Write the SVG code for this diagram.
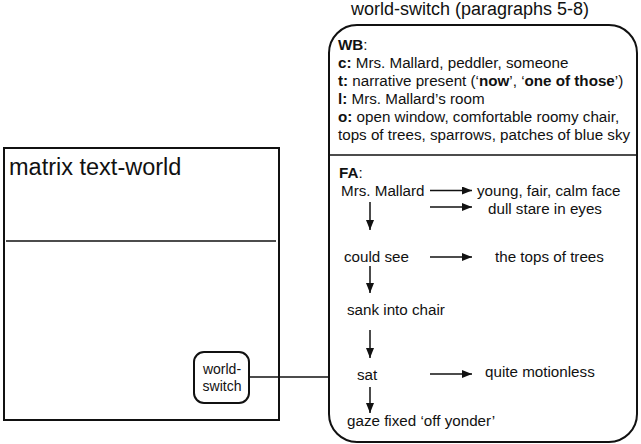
<svg xmlns="http://www.w3.org/2000/svg" width="641" height="444" viewBox="0 0 641 444">
<defs>
<style>
text{font-family:"Liberation Sans",Arial,Helvetica,sans-serif;fill:#111}
.t15{font-size:15.2px}
.b{font-weight:bold}
.box{fill:#fff;stroke:#111;stroke-width:2}
.div{stroke:#111;stroke-width:1.6}
.arr{stroke:#111;stroke-width:1.5;fill:none;marker-end:url(#ah)}
.con{stroke:#111;stroke-width:1.5;fill:none}
</style>
<marker id="ah" viewBox="0 0 10 8" refX="10" refY="4" markerWidth="10" markerHeight="8" markerUnits="userSpaceOnUse" orient="auto">
<path d="M0,0 L10,4 L0,8 Z" fill="#111"/>
</marker>
</defs>
<rect width="641" height="444" fill="#fff"/>

<g id="matrix">
<rect class="box" x="4" y="148" width="275" height="272"/>
<line class="div" x1="6" y1="241" x2="276" y2="241"/>
<text x="9" y="175" style="font-size:23.5px">matrix text-world</text>
</g>

<g id="ws-node">
<rect class="box" x="194" y="352" width="55" height="51" rx="10" ry="10"/>
<text x="222" y="374" text-anchor="middle" style="font-size:14px">world-</text>
<text x="222" y="391" text-anchor="middle" style="font-size:14px">switch</text>
</g>

<g id="world-switch">
<text x="351" y="15" style="font-size:18px">world-switch (paragraphs 5-8)</text>
<rect class="box" x="329" y="25" width="308" height="417" rx="28" ry="28"/>
<line class="div" x1="330" y1="155" x2="636" y2="155"/>
<g class="t15">
<text x="338" y="50"><tspan class="b">WB</tspan>:</text>
<text x="338" y="68"><tspan class="b">c:</tspan> Mrs. Mallard, peddler, someone</text>
<text x="338" y="86"><tspan class="b">t:</tspan> narrative present (‘<tspan class="b">now</tspan>’, ‘<tspan class="b">one of those</tspan>’)</text>
<text x="338" y="104"><tspan class="b">l:</tspan> Mrs. Mallard’s room</text>
<text x="338" y="122"><tspan class="b">o:</tspan> open window, comfortable roomy chair,</text>
<text x="338" y="140">tops of trees, sparrows, patches of blue sky</text>
<text x="339" y="178"><tspan class="b">FA</tspan>:</text>
<text x="341" y="196">Mrs. Mallard</text>
<text x="477" y="196">young, fair, calm face</text>
<text x="488" y="214">dull stare in eyes</text>
<text x="344" y="262">could see</text>
<text x="495" y="262">the tops of trees</text>
<text x="347" y="315">sank into chair</text>
<text x="357" y="380">sat</text>
<text x="485" y="377">quite motionless</text>
<text x="347" y="426">gaze fixed ‘off yonder’</text>
</g>
</g>

<g id="connectors">
<line class="con" x1="249" y1="377" x2="329" y2="377"/>
<line class="arr" x1="430" y1="190.5" x2="472" y2="190.5"/>
<line class="arr" x1="430" y1="207" x2="472" y2="207"/>
<line class="arr" x1="430" y1="257" x2="472" y2="257"/>
<line class="arr" x1="430" y1="374" x2="472" y2="374"/>
<line class="arr" x1="370" y1="202" x2="370" y2="230"/>
<line class="arr" x1="370" y1="266" x2="370" y2="293"/>
<line class="arr" x1="370" y1="330" x2="370" y2="358"/>
<line class="arr" x1="370" y1="387" x2="370" y2="413"/>
</g>
</svg>
